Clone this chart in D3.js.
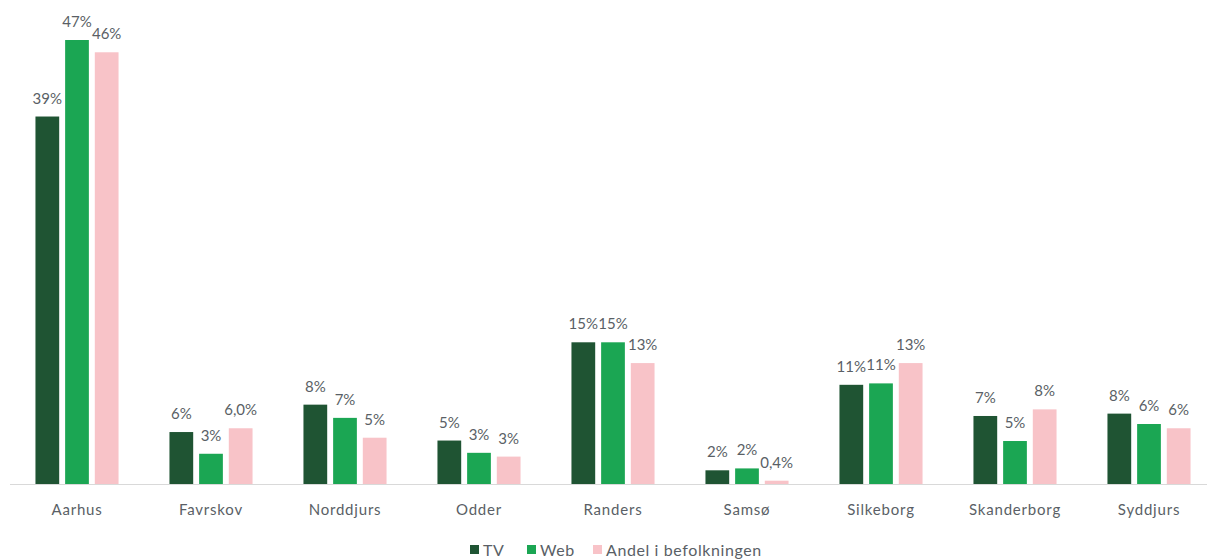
<!DOCTYPE html>
<html><head><meta charset="utf-8">
<script src="https://cdn.jsdelivr.net/npm/d3@7"></script>
<style>body{margin:0;background:#fff}svg{display:block}</style>
</head><body>
<svg id="chart" width="1207" height="559"></svg>
<script>
const categories = ["Aarhus","Favrskov","Norddjurs","Odder","Randers","Samsø","Silkeborg","Skanderborg","Syddjurs"];
const seriesNames = ["TV","Web","Andel i befolkningen"];
const tvValues   = [38.9, 5.5, 8.4, 4.6, 15.0, 1.45, 10.5, 7.2, 7.45];
const webValues  = [47.0, 3.2, 7.0, 3.3, 15.0, 1.65, 10.65, 4.55, 6.35];
const popValues  = [45.7, 5.9, 4.9, 2.9, 12.8, 0.35, 12.8, 7.9, 5.9];
const tvLabels   = ["39%","6%","8%","5%","15%","2%","11%","7%","8%"];
const webLabels  = ["47%","3%","7%","3%","15%","2%","11%","5%","6%"];
const popLabels  = ["46%","6,0%","5%","3%","13%","0,4%","13%","8%","6%"];
const colors = ["#1f5433","#1ba653","#f8c3c8"];

const svg = d3.select("#chart");
const baseY = 484, topY = 40;
const font = "Lato, 'Open Sans', sans-serif";
const textColor = "#5a5f66";
const x0 = d3.scaleBand().domain(categories).range([10, 1216]).paddingInner(0.38).paddingOuter(0.19);
const x1 = d3.scaleBand().domain(seriesNames).range([0, x0.bandwidth()]).paddingInner(0.2).paddingOuter(0);
const y = d3.scaleLinear().domain([0, 47]).range([baseY, topY]);

const values = [tvValues, webValues, popValues];
const labels = [tvLabels, webLabels, popLabels];
const data = [];
categories.forEach((c, i) => seriesNames.forEach((s, j) => data.push({c, s, j, v: values[j][i], l: labels[j][i]})));

// axis line
svg.append("line").attr("x1", 10).attr("x2", 1207).attr("y1", baseY + 0.5).attr("y2", baseY + 0.5)
  .attr("stroke", "#d9d9d9").attr("stroke-width", 1);

const g = svg.append("g");
g.selectAll("rect").data(data).join("rect")
  .attr("x", d => x0(d.c) + x1(d.s))
  .attr("y", d => y(d.v))
  .attr("width", x1.bandwidth())
  .attr("height", d => baseY - y(d.v))
  .attr("fill", d => colors[d.j]);

g.selectAll("text.lbl").data(data).join("text").attr("class", "lbl")
  .attr("x", d => x0(d.c) + x1(d.s) + x1.bandwidth() / 2)
  .attr("y", d => y(d.v) - 13)
  .attr("text-anchor", "middle")
  .attr("font-family", font)
  .attr("font-size", 15)
  .attr("fill", textColor)
  .text(d => d.l);

// category labels via axis
const axis = svg.append("g").attr("transform", `translate(0,${baseY})`)
  .call(d3.axisBottom(x0).tickSize(0).tickPadding(20));
axis.select(".domain").remove();
axis.selectAll("text").attr("font-family", font)
  .attr("font-size", 15).attr("fill", textColor).attr("letter-spacing", "0.8px");

// legend
const legendX = [470, 527, 593];
const leg = svg.append("g");
seriesNames.forEach((s, j) => {
  leg.append("rect").attr("x", legendX[j]).attr("y", 545).attr("width", 9).attr("height", 9).attr("fill", colors[j]);
  leg.append("text").attr("x", legendX[j] + 13).attr("y", 556)
    .attr("font-family", font).attr("font-size", 16)
    .attr("fill", textColor).attr("letter-spacing", "0.6px").text(s);
});
</script>
</body></html>
